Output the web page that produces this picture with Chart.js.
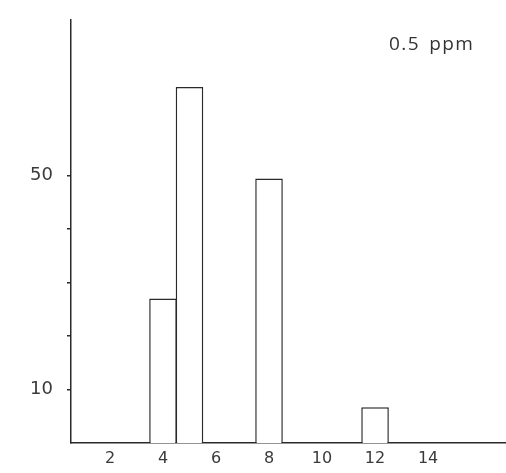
<!DOCTYPE html>
<html>
<head>
<meta charset="utf-8">
<script src="https://cdn.jsdelivr.net/npm/chart.js@4/dist/chart.umd.min.js"></script>
<style>
  html, body { margin: 0; padding: 0; background: #fff; }
  #wrap { position: relative; width: 506px; height: 473px; }
  #note { position: absolute; left: 389px; top: 30px; font: 19px "Open Sans", sans-serif; color: #333; letter-spacing: 1.4px; word-spacing: 3px; }
</style>
</head>
<body>
<div id="wrap">
  <canvas id="histChart" width="506" height="473"></canvas>
  <div id="note">0.5 ppm</div>
</div>
<script>
// bin centres and heights
const binCenters = [4, 5, 8, 12];
const binHeights = [27, 66.5, 49.4, 6.7];
const xTickLabels = [2, 4, 6, 8, 10, 12, 14];
const yTickValues = [10, 20, 30, 40, 50];
const yTickLabels = { 10: '10', 50: '50' };

const ink = '#2a2a2a';

document.addEventListener('DOMContentLoaded', function () {
    const ctx = document.getElementById('histChart').getContext('2d');
    const points = binCenters.map((x, i) => ({ x: x, y: binHeights[i] }));

    new Chart(ctx, {
        type: 'bar',
        data: {
            datasets: [{
                data: points,
                backgroundColor: '#fff',
                borderColor: ink,
                borderWidth: 1.5,
                barPercentage: 1.04,
                categoryPercentage: 1
            }]
        },
        options: {
            responsive: false,
            animation: false,
            layout: { padding: { top: 20, right: 0, left: 0, bottom: 0 } },
            plugins: { legend: { display: false }, tooltip: { enabled: false } },
            scales: {
                x: {
                    type: 'linear',
                    offset: false,
                    min: 0.53,
                    max: 16.94,
                    afterBuildTicks: s => { s.ticks = xTickLabels.map(v => ({ value: v })); },
                    afterFit: s => { s.height = 30; s.paddingLeft = 0; s.paddingRight = 0; },
                    grid: { display: true, drawOnChartArea: false, drawTicks: false },
                    border: { display: true, color: ink, width: 1.5 },
                    ticks: {
                        padding: 6,
                        color: '#3a3a3a',
                        font: { family: 'DejaVu Sans', size: 16 }
                    }
                },
                y: {
                    min: 0,
                    max: 79,
                    afterBuildTicks: s => { s.ticks = yTickValues.map(v => ({ value: v })); },
                    afterFit: s => { s.width = 71; s.paddingTop = 0; s.paddingBottom = 0; },
                    grid: { display: true, drawOnChartArea: false, tickLength: 4, color: ink, lineWidth: 1.5 },
                    border: { display: true, color: ink, width: 1.5 },
                    ticks: {
                        padding: 14,
                        color: '#3a3a3a',
                        font: { family: 'DejaVu Sans', size: 18 },
                        callback: v => yTickLabels[v] || ''
                    }
                }
            }
        }
    });
});
</script>
</body>
</html>
